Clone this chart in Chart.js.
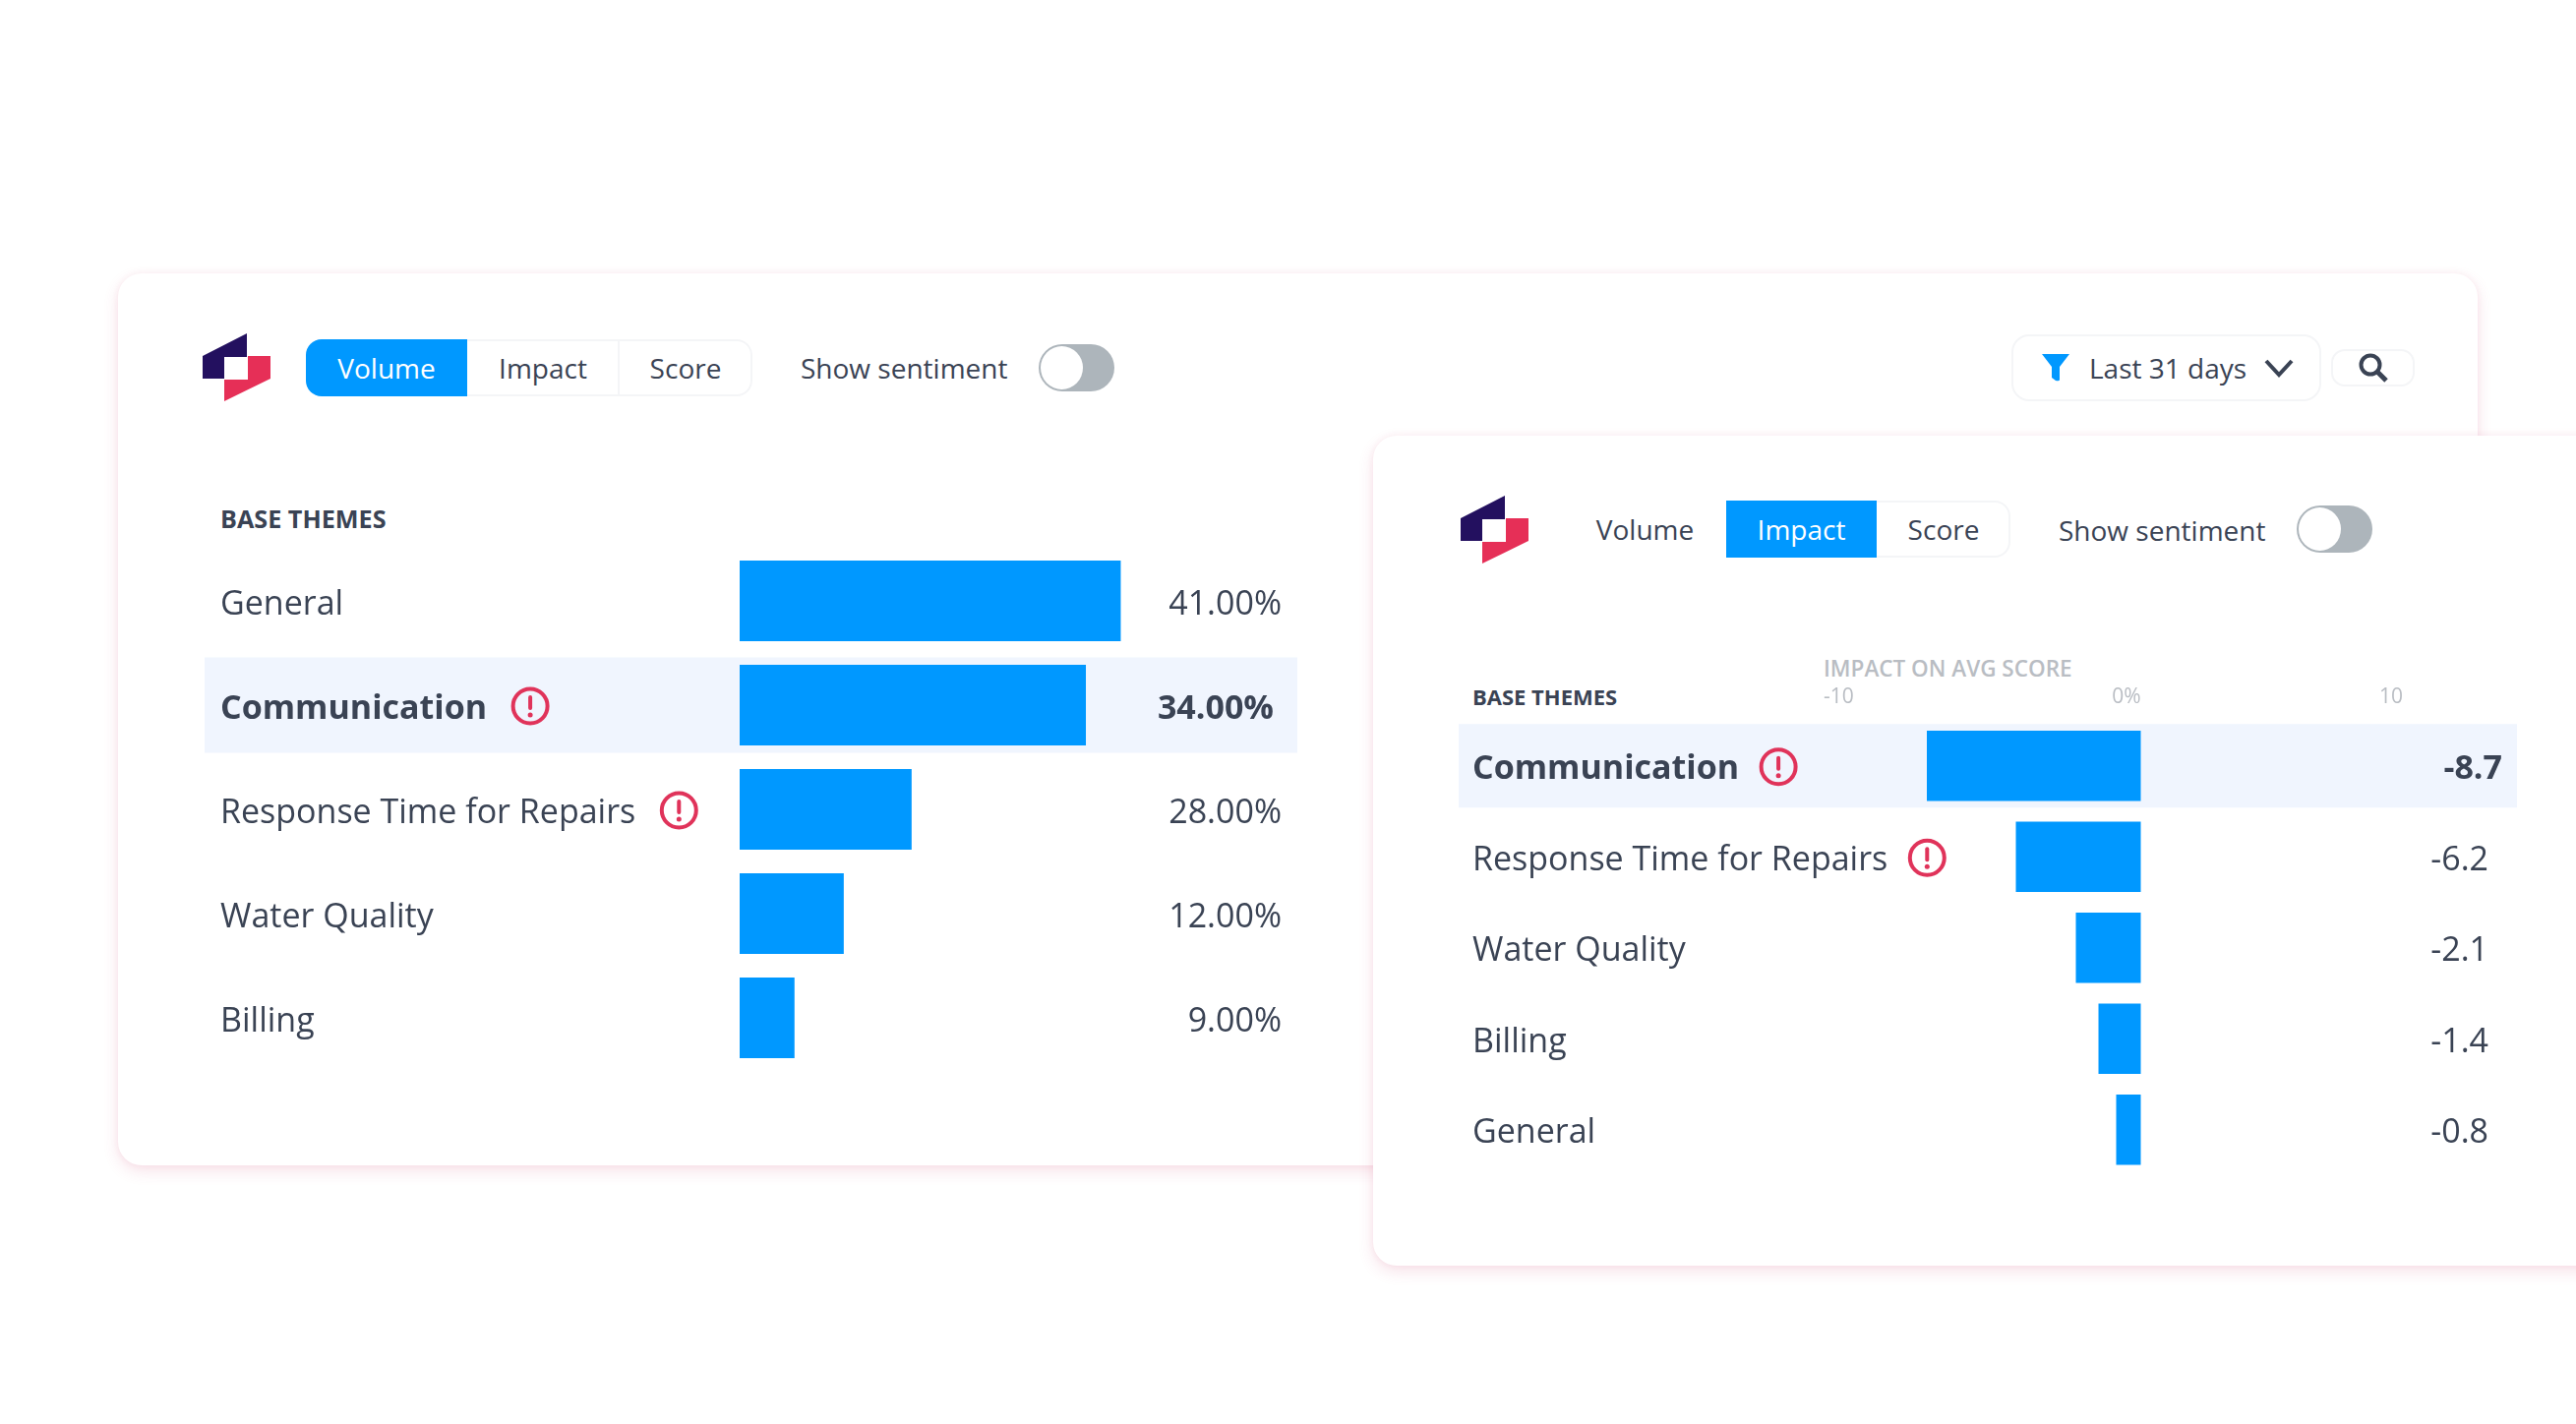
<!DOCTYPE html>
<html>
<head>
<meta charset="utf-8">
<script src="https://cdn.jsdelivr.net/npm/chart.js@4"></script>
<style>
  html, body { margin: 0; padding: 0; background: #fff; }
  body { position: relative; width: 2619px; height: 1448px; overflow: hidden; font-family: "Open Sans", sans-serif; color: #3a4354; }
  .card { position: absolute; background: #fff; border-radius: 24px; box-shadow: 0 6px 16px rgba(205, 60, 105, .14), 0 0 6px rgba(205, 60, 105, .07); }
  .abs { position: absolute; }
  .t { position: absolute; white-space: nowrap; line-height: 1; transform: translateY(-50%); }
  .box { position: absolute; box-sizing: border-box; border: 2px solid #f4f5f7; }
  .seg { position: absolute; display: flex; align-items: center; justify-content: center; box-sizing: border-box; font-size: 28px; }
  .on { background: #0098ff; color: #fff; }
  .toggle { position: absolute; width: 77px; height: 48px; border-radius: 24px; background: #adb5bb; }
  .knob { position: absolute; left: 2px; top: 2px; width: 43px; height: 44px; border-radius: 50%; background: #fff; }
  .head { font-size: 25.2px; font-weight: 700; }
  canvas { position: absolute; }
</style>
</head>
<body>

<div class="card" id="left-card" style="left:120px;top:278px;width:2399px;height:907px;">
</div>
<svg class="abs" width="80" height="80" style="left:200px;top:334px"><polygon points="6,28 51,5 51,29 28,29 28,51 6,51" fill="#23105f"/><polygon points="52,28 75,28 75,51 28,74 28,52 52,52" fill="#e62f57"/></svg>
<div class="box" style="left:311px;top:345px;width:454px;height:58px;border-radius:16px"></div>
<div class="seg on" style="left:311px;top:345px;width:164px;height:58px;border-radius:16px 0 0 16px">Volume</div>
<div class="seg" style="left:475px;top:345px;width:154px;height:58px">Impact</div>
<div class="abs" style="left:628px;top:346px;width:2px;height:56px;background:#f4f5f7"></div>
<div class="seg" style="left:629px;top:345px;width:136px;height:58px">Score</div>
<div class="t" style="left:814px;top:374px;font-size:28px">Show sentiment</div>
<div class="toggle" style="left:1056px;top:350px"><div class="knob"></div></div>
<div class="box" style="left:2045px;top:340px;width:315px;height:68px;border-radius:18px"></div>
<svg class="abs" width="30" height="30" style="left:2075px;top:359px"><path d="M1 1 H29 L19 14 V27 Q19 29 15 28 L11 25 V14 Z" fill="#0098ff"/></svg>
<div class="t" style="left:2124px;top:374px;font-size:28px">Last 31 days</div>
<svg class="abs" width="32" height="20" style="left:2301px;top:364px"><path d="M3 3 L16 17 L29 3" fill="none" stroke="#3a4354" stroke-width="4"/></svg>
<div class="box" style="left:2370px;top:355px;width:85px;height:38px;border-radius:14px"></div>
<svg class="abs" width="32" height="32" style="left:2397px;top:358px"><circle cx="13" cy="13" r="9.5" fill="none" stroke="#3a4354" stroke-width="4"/><path d="M20 20 L29 29" stroke="#3a4354" stroke-width="5"/></svg>
<div class="t head" style="left:224px;top:528px">BASE THEMES</div>
<canvas id="volume-chart" width="1111" height="530" style="left:208px;top:558px"></canvas>

<div class="card" id="right-card" style="left:1396px;top:443px;width:1300px;height:844px;">
</div>
<svg class="abs" width="80" height="80" style="left:1479px;top:499px"><polygon points="6,28 51,5 51,29 28,29 28,51 6,51" fill="#23105f"/><polygon points="52,28 75,28 75,51 28,74 28,52 52,52" fill="#e62f57"/></svg>
<div class="seg" style="left:1623px;top:509px;width:99px;height:58px">Volume</div>
<div class="box" style="left:1890px;top:509px;width:154px;height:58px;border-radius:16px"></div>
<div class="seg on" style="left:1755px;top:509px;width:153px;height:58px">Impact</div>
<div class="seg" style="left:1908px;top:509px;width:136px;height:58px">Score</div>
<div class="t" style="left:2093px;top:539px;font-size:28px">Show sentiment</div>
<div class="toggle" style="left:2335px;top:514px"><div class="knob"></div></div>
<div class="t" style="left:1854px;top:680px;font-size:22.5px;font-weight:600;color:#b9bdc3">IMPACT ON AVG SCORE</div>
<div class="t" style="left:1497px;top:708px;font-size:22px;font-weight:700">BASE THEMES</div>
<canvas id="impact-chart" width="1076" height="535" style="left:1483px;top:660px"></canvas>

<script>
const TEXT = '#3a4354';
const BLUE = '#0098ff';
const ALERT = '#e0335a';
const FONT = '"Open Sans", sans-serif';

// left panel, bar lengths are read off the picture, they don't follow the printed labels
const volumeThemes = ['General', 'Communication', 'Response Time for Repairs', 'Water Quality', 'Billing'];
const volumeBars = [41, 37.25, 18.5, 11.2, 5.9];
const volumeLabels = ['41.00%', '34.00%', '28.00%', '12.00%', '9.00%'];
const volumeAlerts = [false, true, true, false, false];

// right panel
const impactThemes = ['Communication', 'Response Time for Repairs', 'Water Quality', 'Billing', 'General'];
const impactBars = [-8.7, -5.08, -2.64, -1.72, -1.0];
const impactLabels = ['-8.7', '-6.2', '-2.1', '-1.4', '-0.8'];
const impactAlerts = [true, true, false, false, false];
const impactTicks = [-10, 0, 10];
const impactTickLabels = ['-10', '0%', '10'];

// row highlight, theme names and value text, alert icon after the theme name
const panelPlugin = {
  id: 'panel',
  beforeDraw(chart, args, opts) {
    const ctx = chart.ctx;
    const y = chart.scales.y.getPixelForValue(opts.highlight);
    ctx.save();
    ctx.fillStyle = '#f0f5fe';
    ctx.fillRect(0, y - opts.rowHeight / 2, chart.width, opts.rowHeight);
    ctx.restore();
  },
  afterDatasetsDraw(chart, args, opts) {
    const ctx = chart.ctx;
    const yScale = chart.scales.y;
    ctx.save();
    ctx.textBaseline = 'middle';
    opts.values.forEach((text, i) => {
      const y = yScale.getPixelForValue(i);
      const bold = i === opts.highlight;
      ctx.fillStyle = TEXT;
      ctx.font = (bold ? 'bold ' : '') + '34px ' + FONT;
      // canvas middle baseline sits a bit high for this font
      ctx.textAlign = 'right';
      ctx.fillText(text, chart.width - (bold ? opts.boldInset : opts.inset), y + 4);
      ctx.textAlign = 'left';
      ctx.fillText(chart.data.labels[i], yScale.left, y + 4);
      if (opts.alerts[i]) {
        const cx = yScale.left + ctx.measureText(chart.data.labels[i]).width + opts.alertGap;
        ctx.strokeStyle = ALERT;
        ctx.fillStyle = ALERT;
        ctx.lineWidth = 4;
        ctx.beginPath();
        ctx.arc(cx, y + 1, 17.5, 0, Math.PI * 2);
        ctx.stroke();
        ctx.lineCap = 'round';
        ctx.beginPath();
        ctx.moveTo(cx, y - 8);
        ctx.lineTo(cx, y + 3);
        ctx.stroke();
        ctx.beginPath();
        ctx.arc(cx, y + 10, 2.5, 0, Math.PI * 2);
        ctx.fill();
      }
    });
    ctx.restore();
  }
};

// the axis numbers of the impact panel sit off their tick, each with its own alignment
const axisLabelPlugin = {
  id: 'axisLabels',
  afterDraw(chart, args, opts) {
    if (!opts.labels) return;
    const ctx = chart.ctx;
    ctx.save();
    ctx.font = '21px ' + FONT;
    ctx.fillStyle = '#b9bdc3';
    ctx.textBaseline = 'middle';
    opts.ticks.forEach((v, i) => {
      ctx.textAlign = opts.aligns[i];
      ctx.fillText(opts.labels[i], chart.scales.x.getPixelForValue(v) + opts.nudges[i], opts.y);
    });
    ctx.restore();
  }
};

function makePanel(id, themes, bars, cfg) {
  return new Chart(document.getElementById(id), {
    type: 'bar',
    data: {
      labels: themes,
      datasets: [{ data: bars, backgroundColor: BLUE, barPercentage: cfg.barPercentage, categoryPercentage: 1 }]
    },
    plugins: [panelPlugin, axisLabelPlugin],
    options: {
      indexAxis: 'y',
      responsive: false,
      animation: false,
      layout: { padding: { left: cfg.padLeft, top: cfg.padTop, right: 0, bottom: 0 } },
      scales: {
        x: {
          min: cfg.min,
          max: cfg.max,
          grid: { display: false },
          border: { display: false },
          ticks: { display: false },
          afterFit(scale) { scale.height = 0; }
        },
        y: {
          grid: { display: false },
          border: { display: false },
          ticks: { display: false },
          afterFit(scale) { scale.width = cfg.axisWidth; }
        }
      },
      plugins: {
        legend: { display: false },
        tooltip: { enabled: false },
        panel: cfg.panel,
        axisLabels: cfg.axis || {}
      }
    }
  });
}

makePanel('volume-chart', volumeThemes, volumeBars, {
  barPercentage: 82 / 106,
  padLeft: 16,
  padTop: 0,
  axisWidth: 528,
  min: 0,
  max: 60,
  panel: { highlight: 1, rowHeight: 97, values: volumeLabels, alerts: volumeAlerts, inset: 16, boldInset: 24, alertGap: 44 }
});

makePanel('impact-chart', impactThemes, impactBars, {
  barPercentage: 71.5 / 92.4,
  padLeft: 14,
  padTop: 72.5,
  axisWidth: 429.5,
  min: -10,
  max: 15.3,
  panel: { highlight: 0, rowHeight: 85, values: impactLabels, alerts: impactAlerts, inset: 29, boldInset: 15, alertGap: 40 },
  axis: { ticks: impactTicks, labels: impactTickLabels, aligns: ['left', 'right', 'right'], nudges: [-72.5, 0, 16.5], y: 49 }
});
</script>
</body>
</html>
